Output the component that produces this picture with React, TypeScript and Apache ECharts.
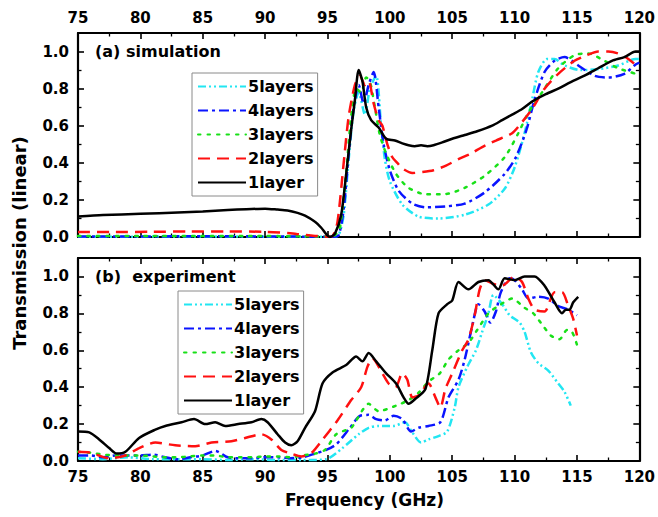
import React, { useEffect, useRef } from "react";
import * as echarts from "echarts";

// ---------- Categories / legend names ----------
const seriesNames = ["5layers", "4layers", "3layers", "2layers", "1layer"];
const xTicks = { min: 75, max: 120, step: 5 };
const yTicks = { min: 0, max: 1.1, step: 0.2 };

// ---------- (a) simulation ----------
const simF5 = [75, 80, 85, 90, 93, 95.5, 95.9, 96.3, 96.7, 97.1, 97.5, 98, 98.4, 98.9, 99.3, 99.6, 100, 101, 102.3, 103.9, 106, 107.9, 109.2, 110, 110.8, 111.4, 111.9, 112.6, 113.2, 114, 115.3, 116.7, 118.3, 119.7, 120];
const simT5 = [0.002, 0.002, 0.003, 0.002, 0.002, 0.001, 0.01, 0.12, 0.42, 0.68, 0.78, 0.66, 0.8, 0.87, 0.6, 0.42, 0.3, 0.175, 0.11, 0.1, 0.12, 0.175, 0.26, 0.375, 0.56, 0.74, 0.89, 0.96, 0.96, 0.925, 0.9, 0.905, 0.925, 0.96, 0.96];

const simF4 = [75, 80, 85, 90, 93, 95.5, 95.9, 96.3, 96.7, 97.1, 97.5, 97.9, 98.3, 98.7, 99.1, 99.5, 100, 100.7, 101.8, 102.9, 104.5, 106, 107.6, 109.2, 110.1, 110.96, 111.6, 112.4, 113.2, 114, 115.1, 116.4, 117.5, 118.8, 119.7, 120];
const simT4 = [0.003, 0.003, 0.004, 0.003, 0.002, 0.001, 0.01, 0.15, 0.45, 0.7, 0.82, 0.72, 0.82, 0.89, 0.7, 0.5, 0.36, 0.25, 0.18, 0.16, 0.165, 0.18, 0.24, 0.34, 0.43, 0.58, 0.74, 0.89, 0.95, 0.97, 0.925, 0.87, 0.86, 0.88, 0.93, 0.94];

const simF3 = [75, 80, 85, 90, 93, 95, 95.6, 96, 96.5, 96.9, 97.3, 97.7, 98.1, 98.4, 98.8, 99.2, 99.7, 100.5, 101.5, 102.9, 104.5, 106, 107.6, 109.2, 110.3, 111.1, 112.2, 113.5, 114.8, 115.9, 117.2, 118.3, 119.7, 120];
const simT3 = [0.005, 0.005, 0.006, 0.005, 0.004, 0.002, 0.01, 0.05, 0.35, 0.65, 0.8, 0.78, 0.86, 0.84, 0.7, 0.55, 0.45, 0.34, 0.265, 0.23, 0.232, 0.265, 0.33, 0.43, 0.56, 0.67, 0.78, 0.91, 0.98, 0.99, 0.95, 0.91, 0.88, 0.87];

const simF2 = [75, 78, 81, 84, 87, 90, 92, 93, 94, 95, 95.4, 95.8, 96.3, 96.7, 97.2, 97.6, 98.0, 98.3, 98.7, 99.1, 99.4, 99.8, 100.2, 100.6, 101, 101.8, 102.6, 103.5, 104.5, 105.5, 106.5, 107.4, 108.5, 109.8, 110.6, 111.4, 112.4, 113.5, 114.8, 115.8, 116.7, 117.5, 118.3, 119, 119.7, 120];
const simT2 = [0.027, 0.027, 0.028, 0.03, 0.03, 0.028, 0.02, 0.012, 0.006, 0.002, 0.005, 0.08, 0.4, 0.65, 0.82, 0.87, 0.82, 0.84, 0.72, 0.63, 0.6, 0.5, 0.43, 0.4, 0.37, 0.345, 0.35, 0.36, 0.385, 0.42, 0.45, 0.485, 0.52, 0.56, 0.62, 0.69, 0.8, 0.88, 0.95, 0.98, 1.0, 1.0, 0.99, 0.965, 0.93, 0.92];

const simF1 = [75, 77, 80, 83, 85, 87, 88.5, 90, 91, 91.8, 92.6, 93.2, 94, 94.5, 94.9, 95.2, 95.6, 96.1, 96.5, 96.9, 97.2, 97.5, 97.8, 98.1, 98.5, 99.1, 99.7, 100.4, 101, 101.5, 102, 102.5, 103, 103.5, 104.2, 105, 106, 107, 108.2, 109, 109.8, 110.6, 111.4, 112.5, 113.5, 114.5, 115.6, 116.7, 117.8, 118.8, 119.7, 120];
const simT1 = [0.11, 0.118, 0.125, 0.132, 0.137, 0.145, 0.15, 0.153, 0.148, 0.143, 0.13, 0.115, 0.082, 0.05, 0.015, 0.0, 0.018, 0.12, 0.34, 0.58, 0.74, 0.9, 0.84, 0.7, 0.63, 0.59, 0.53, 0.52, 0.505, 0.495, 0.49, 0.495, 0.49, 0.495, 0.51, 0.53, 0.55, 0.57, 0.6, 0.63, 0.66, 0.69, 0.73, 0.77, 0.8, 0.835, 0.87, 0.91, 0.95, 0.97, 1.0, 1.0];

// ---------- (b) experiment ----------
const expF5 = [75, 77, 79, 81, 83, 85, 87, 89, 91, 93, 94.9, 96.2, 97.5, 98.3, 99.1, 100.3, 101.2, 101.8, 102.5, 103.1, 103.9, 104.6, 105.2, 105.5, 106.2, 106.9, 107.4, 107.9, 108.3, 109, 109.6, 110.4, 110.8, 111.3, 111.9, 112.7, 113.5, 114, 114.5];
const expT5 = [0.015, 0.01, 0.02, 0.01, 0.01, 0.01, 0.005, 0.01, 0.005, 0.005, 0.01, 0.07, 0.145, 0.18, 0.19, 0.19, 0.21, 0.155, 0.1, 0.117, 0.135, 0.16, 0.29, 0.4, 0.51, 0.6, 0.7, 0.8, 0.9, 0.85, 0.79, 0.75, 0.7, 0.59, 0.53, 0.49, 0.42, 0.375, 0.3];

const expF4 = [75, 76, 77, 78, 79, 80, 81, 82, 83, 84, 85, 86, 87, 88, 89, 90, 91, 92, 93, 94, 94.9, 95.7, 96.8, 97.6, 98.3, 98.9, 99.6, 100.3, 101, 101.7, 102.3, 103.1, 104.05, 104.7, 105.5, 106, 106.6, 107.1, 107.6, 108.05, 108.5, 108.9, 109.6, 110, 110.6, 111.1, 111.9, 112.7, 113.5, 114.3, 115];
const expT4 = [0.03, 0.03, 0.02, 0.03, 0.03, 0.03, 0.035, 0.02, 0.01, 0.02, 0.03, 0.055, 0.02, 0.015, 0.015, 0.02, 0.02, 0.015, 0.02, 0.04, 0.06, 0.09, 0.18, 0.245, 0.25, 0.227, 0.22, 0.245, 0.227, 0.16, 0.18, 0.19, 0.21, 0.345, 0.44, 0.55, 0.73, 0.85, 0.81, 0.75, 0.81, 0.915, 0.99, 0.98, 0.93, 0.88, 0.89, 0.88, 0.84, 0.82, 0.79];

const expF3 = [75, 76, 77, 78, 79, 80, 81, 82, 83, 84, 85, 86, 87, 88, 89, 90, 91, 92, 93, 94, 94.8, 95.7, 96.9, 97.3, 98.3, 99.1, 100.5, 101.5, 102.3, 103.1, 104, 104.7, 105.5, 106.3, 107, 107.9, 108.7, 109.8, 110.8, 111.5, 112.2, 112.9, 113.6, 114.2, 114.6, 115];
const expT3 = [0.05, 0.045, 0.035, 0.03, 0.03, 0.03, 0.025, 0.02, 0.02, 0.025, 0.03, 0.03, 0.02, 0.02, 0.02, 0.025, 0.025, 0.02, 0.03, 0.04, 0.06, 0.145, 0.18, 0.22, 0.31, 0.27, 0.3, 0.33, 0.37, 0.43, 0.475, 0.55, 0.6, 0.64, 0.71, 0.8, 0.84, 0.88, 0.83, 0.8, 0.74, 0.68, 0.66, 0.71, 0.7, 0.63];

const expF2 = [75, 76, 77.5, 78.8, 79.9, 81.2, 82.8, 84.4, 85.7, 87.3, 88.4, 89.7, 90.5, 91.3, 92.1, 92.9, 93.7, 94.5, 95.8, 96.9, 97.7, 98.2, 98.6, 99.4, 99.9, 100.45, 101, 101.4, 101.8, 102.3, 103.1, 103.65, 104.05, 104.45, 105, 105.8, 106.3, 106.8, 107.2, 107.6, 108.3, 109, 110, 110.6, 111.1, 111.6, 112.4, 113.2, 113.8, 114.3, 114.7, 115];
const expT2 = [0.05, 0.045, 0.015, 0.03, 0.07, 0.1, 0.085, 0.08, 0.1, 0.107, 0.125, 0.145, 0.117, 0.06, 0.04, 0.025, 0.043, 0.107, 0.22, 0.33, 0.4, 0.51, 0.557, 0.475, 0.42, 0.4, 0.475, 0.44, 0.345, 0.355, 0.42, 0.345, 0.29, 0.39, 0.475, 0.6, 0.658, 0.79, 0.93, 0.98, 0.96, 0.95, 1.0, 0.97, 0.88, 0.82, 0.81, 0.915, 0.915, 0.84, 0.77, 0.68];

const expF1 = [75, 75.9, 76.7, 77.5, 78.1, 78.8, 79.9, 81.2, 82, 83.3, 84.3, 85.2, 86, 86.8, 87.85, 88.9, 89.7, 90.2, 91, 91.6, 92.1, 92.6, 93.2, 94, 94.6, 95.4, 96.5, 97.3, 97.8, 98.3, 98.9, 99.7, 100.5, 101.1, 101.5, 102.05, 102.85, 103.4, 103.9, 104.6, 105, 105.5, 106.3, 107.1, 107.9, 108.7, 109.2, 110, 110.8, 111.6, 112.4, 113.2, 113.8, 114.1, 114.4, 114.7, 115.1];
const expT1 = [0.16, 0.155, 0.117, 0.07, 0.04, 0.05, 0.125, 0.17, 0.19, 0.21, 0.227, 0.2, 0.21, 0.19, 0.2, 0.21, 0.227, 0.21, 0.145, 0.1, 0.085, 0.107, 0.18, 0.27, 0.42, 0.48, 0.52, 0.566, 0.54, 0.585, 0.54, 0.475, 0.42, 0.345, 0.31, 0.337, 0.39, 0.6, 0.8, 0.85, 0.87, 0.97, 0.93, 0.97, 0.98, 0.93, 0.99, 0.98, 1.0, 1.0, 0.95, 0.86, 0.8, 0.82, 0.82, 0.86, 0.89];

const simSets = [[simF5, simT5], [simF4, simT4], [simF3, simT3], [simF2, simT2], [simF1, simT1]];
const expSets = [[expF5, expT5], [expF4, expT4], [expF3, expT3], [expF2, expT2], [expF1, expT1]];

// ---------- styles ----------
const FONT = "'DejaVu Sans', 'Liberation Sans', Arial, sans-serif";
const styles: any[] = [
  { color: "#22e6f2", type: [8, 3, 2, 3, 2, 3] },
  { color: "#0a14ff", type: [10, 4, 3, 4] },
  { color: "#18e018", type: [2.5, 7] },
  { color: "#ff1010", type: [12, 7] },
  { color: "#000000", type: "solid" },
];

function zip(f: number[], t: number[]) {
  return f.map((x, i) => [x, t[i]]);
}

function xAxis(gridIndex: number, position: string, labels: boolean) {
  return {
    type: "value",
    gridIndex,
    position,
    min: xTicks.min,
    max: xTicks.max,
    interval: xTicks.step,
    axisLine: { show: true, onZero: false, lineStyle: { color: "#000", width: 2.2 } },
    axisTick: { show: true, inside: true, length: 6, lineStyle: { color: "#000", width: 1.6 } },
    minorTick: { show: true, splitNumber: 2, length: 3.5, lineStyle: { color: "#000", width: 1.3 } },
    axisLabel: {
      show: labels,
      color: "#000",
      fontWeight: "bold",
      fontSize: 15,
      fontFamily: FONT,
      margin: 8,
    },
    splitLine: { show: false },
    minorSplitLine: { show: false },
  };
}

function yAxis(gridIndex: number, position: string, labels: boolean) {
  return {
    type: "value",
    gridIndex,
    position,
    min: yTicks.min,
    max: yTicks.max,
    interval: yTicks.step,
    axisLine: { show: true, onZero: false, lineStyle: { color: "#000", width: 2.2 } },
    axisTick: { show: true, inside: true, length: 6, lineStyle: { color: "#000", width: 1.6 } },
    minorTick: { show: true, splitNumber: 2, length: 3.5, lineStyle: { color: "#000", width: 1.3 } },
    axisLabel: {
      show: labels,
      color: "#000",
      fontWeight: "bold",
      fontSize: 15,
      fontFamily: FONT,
      margin: 9,
      formatter: (v: number) => (v > 1.05 ? "" : v.toFixed(1)),
    },
    splitLine: { show: false },
    minorSplitLine: { show: false },
  };
}

function legend(left: number, top: number) {
  return {
    orient: "vertical",
    left,
    top,
    data: seriesNames,
    itemWidth: 48,
    itemHeight: 14,
    itemGap: 7,
    padding: [5, 4, 5, 5],
    backgroundColor: "#fff",
    borderColor: "#8a8a8a",
    borderWidth: 1,
    borderRadius: 0,
    selectedMode: false,
    itemStyle: { opacity: 0 },
    textStyle: { color: "#000", fontWeight: "bold", fontSize: 16, fontFamily: FONT, lineHeight: 17, padding: [0, 0, 0, -3] },
  };
}

export default function App() {
  const ref = useRef<HTMLDivElement>(null);
  useEffect(() => {
    if (!ref.current) return;
    const chart = echarts.init(ref.current, undefined, { renderer: "svg" });
    const series: any[] = [];
    simSets.forEach(([f, t], i) => {
      series.push({
        type: "line",
        name: seriesNames[i],
        xAxisIndex: 0,
        yAxisIndex: 0,
        data: zip(f, t),
        symbol: "none",
        smooth: 0.25,
        lineStyle: { color: styles[i].color, type: styles[i].type, width: 2.5, cap: i === 2 ? "round" : "butt" },
        itemStyle: { color: styles[i].color },
      });
    });
    expSets.forEach(([f, t], i) => {
      series.push({
        type: "line",
        name: seriesNames[i],
        xAxisIndex: 2,
        yAxisIndex: 2,
        data: zip(f, t),
        symbol: "none",
        smooth: 0.25,
        lineStyle: { color: styles[i].color, type: styles[i].type, width: 2.5, cap: i === 2 ? "round" : "butt" },
        itemStyle: { color: styles[i].color },
      });
    });
    chart.setOption({
      animation: false,
      backgroundColor: "#fff",
      grid: [
        { left: 78, top: 33, width: 565, height: 204 },
        { left: 78, top: 258, width: 565, height: 203 },
      ],
      xAxis: [xAxis(0, "top", true), xAxis(0, "bottom", false), xAxis(1, "bottom", true), xAxis(1, "top", false)],
      yAxis: [yAxis(0, "left", true), yAxis(0, "right", false), yAxis(1, "left", true), yAxis(1, "right", false)],
      legend: [legend(192, 73), legend(178, 291)],
      graphic: [
        { type: "text", left: 95, top: 43, style: { text: "(a) simulation", fill: "#000", font: `bold 16px ${FONT}` } },
        { type: "text", left: 95, top: 268, style: { text: "(b)  experiment", fill: "#000", font: `bold 16px ${FONT}` } },
        { type: "text", left: 285, top: 491, style: { text: "Frequency (GHz)", fill: "#000", font: `bold 17px ${FONT}` } },
        {
          type: "text",
          x: 19,
          y: 243,
          rotation: Math.PI / 2,
          style: { text: "Transmission (linear)", fill: "#000", font: `bold 18px ${FONT}`, align: "center", verticalAlign: "middle" },
        },
      ],
      series,
    });
    return () => chart.dispose();
  }, []);
  return <div ref={ref} style={{ position: "fixed", left: 0, top: 0, width: 658, height: 517 }} />;
}
